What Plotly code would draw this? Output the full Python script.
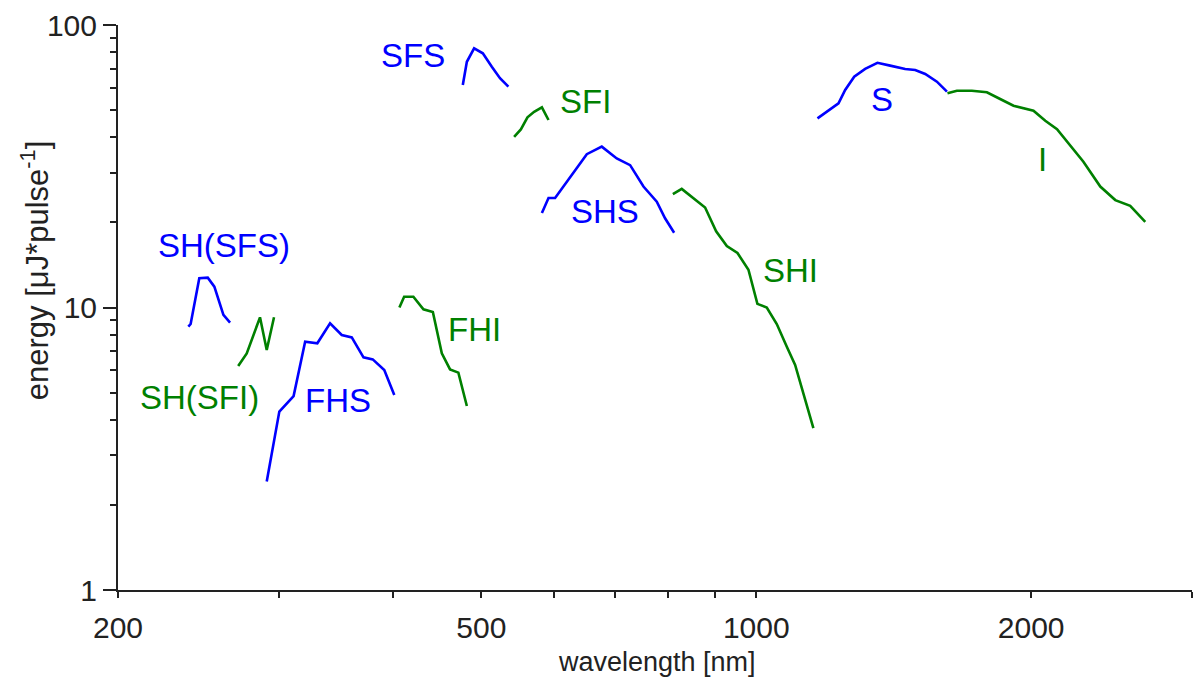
import numpy as np
import plotly.graph_objects as go

BLUE = "#0000FF"
GREEN = "#008000"

# ---- data (wavelength nm, energy uJ/pulse) ----
sh_sfs_wl = [238.8, 240.2, 245.5, 250.8, 255.0, 260.9, 265.3]
sh_sfs_e = [8.55, 8.74, 12.7, 12.75, 11.85, 9.41, 8.84]

sh_sfi_wl = [270.8, 276.7, 286.1, 291.0, 296.4]
sh_sfi_e = [6.21, 6.88, 9.23, 7.07, 9.23]

fhs_wl = [291.0, 300.4, 311.4, 320.6, 330.6, 341.4, 351.6, 360.6, 371.4, 380.2, 391.4, 401.4]
fhs_e = [2.42, 4.28, 4.86, 7.57, 7.47, 8.79, 7.99, 7.84, 6.66, 6.55, 6.01, 4.90]

fhi_wl = [406.6, 411.5, 421.2, 432.0, 442.4, 446.9, 452.5, 462.0, 471.8, 482.0]
fhi_e = [10.0, 10.92, 10.92, 9.85, 9.64, 8.21, 6.88, 6.04, 5.88, 4.48]

sfs_wl = [477.1, 482.0, 490.9, 501.8, 513.3, 524.0, 535.2]
sfs_e = [61.3, 74.1, 82.7, 79.4, 71.2, 64.8, 60.5]

sfi_wl = [543.0, 552.3, 561.6, 571.1, 582.4, 592.2]
sfi_e = [40.2, 42.7, 47.1, 49.3, 51.1, 46.1]

shs_wl = [582.4, 592.2, 602.1, 625.2, 652.2, 677.3, 703.4, 727.5, 752.4, 778.1, 794.5, 812.9]
shs_e = [21.6, 24.4, 24.4, 29.0, 34.9, 37.1, 33.7, 31.9, 26.8, 23.7, 20.7, 18.4]

shi_wl = [810.3, 828.6, 878.9, 903.7, 928.4, 953.6, 980.4, 1002.8, 1026.8, 1053.0, 1080.0, 1102.9, 1154.8]
shi_e = [25.2, 26.3, 22.6, 18.6, 16.5, 15.6, 13.6, 10.3, 10.0, 8.74, 7.26, 6.26, 3.74]

s_wl = [1166.8, 1199.6, 1230.3, 1251.2, 1280.0, 1315.8, 1357.2, 1401.4, 1455.6, 1492.8, 1531.0, 1576.8, 1617.2]
s_e = [46.7, 49.7, 52.8, 58.9, 65.6, 69.9, 73.5, 71.8, 69.9, 69.3, 67.1, 63.0, 58.1]

i_wl = [1619.4, 1658.2, 1722.0, 1766.0, 1788.6, 1849.4, 1912.8, 2011.6, 2072.4, 2134.6, 2206.4, 2281.4, 2380.6, 2472.4, 2567.2, 2666.4]
i_e = [57.3, 58.5, 58.5, 57.8, 57.8, 54.7, 51.8, 49.7, 45.8, 42.8, 37.6, 32.8, 26.8, 24.0, 22.9, 20.1]

series = [
    (sh_sfs_wl, sh_sfs_e, BLUE), (sh_sfi_wl, sh_sfi_e, GREEN),
    (fhs_wl, fhs_e, BLUE), (fhi_wl, fhi_e, GREEN),
    (sfs_wl, sfs_e, BLUE), (sfi_wl, sfi_e, GREEN),
    (shs_wl, shs_e, BLUE), (shi_wl, shi_e, GREEN),
    (s_wl, s_e, BLUE), (i_wl, i_e, GREEN),
]

# labels: text, wavelength, energy, colour
label_text = ["SFS", "SFI", "S", "SHS", "I", "SHI", "SH(SFS)", "FHI", "SH(SFI)", "FHS"]
label_wl = [420.6, 649.4, 1373.6, 683.0, 2056.0, 1089.0, 261.4, 490.9, 245.9, 348.6]
label_e = [78.3, 53.8, 54.3, 21.8, 33.3, 13.5, 16.6, 8.33, 4.82, 4.67]
label_col = [BLUE, GREEN, BLUE, BLUE, GREEN, GREEN, BLUE, GREEN, GREEN, BLUE]

x_major = [200, 500, 1000, 2000]
x_minor = [300, 400, 600, 700, 800, 900, 3000]
y_major = [1, 10, 100]
y_minor = [2, 3, 4, 5, 6, 7, 8, 9, 20, 30, 40, 50, 60, 70, 80, 90]

FONT = "Liberation Sans, Arial, sans-serif"
AX = "#222222"

fig = go.Figure()
for wl, e, c in series:
    fig.add_trace(go.Scatter(x=wl, y=e, mode="lines", line=dict(color=c, width=2.6),
                             showlegend=False, hoverinfo="skip"))

for t, w, e, c in zip(label_text, label_wl, label_e, label_col):
    fig.add_annotation(x=np.log10(w), y=np.log10(e), xref="x", yref="y", text=t,
                       showarrow=False, font=dict(family=FONT, size=33, color=c),
                       xanchor="center", yanchor="middle")

fig.add_annotation(x=0.5019, y=-0.1274, xref="paper", yref="paper", text="wavelength [nm]",
                   showarrow=False, font=dict(family=FONT, size=27, color=AX),
                   xanchor="center", yanchor="middle")
fig.add_annotation(x=-0.0773, y=0.566, xref="paper", yref="paper",
                   text="energy [μJ*pulse<sup>-1</sup>]", textangle=-90,
                   showarrow=False, font=dict(family=FONT, size=31, color=AX),
                   xanchor="center", yanchor="middle")

# long tick at 1000
fig.add_shape(type="line", xref="x", x0=np.log10(1000), x1=np.log10(1000),
              yref="paper", ysizemode="pixel", yanchor=0, y0=0, y1=-13,
              line=dict(color=AX, width=1.5))

fig.update_xaxes(type="log", range=[np.log10(200), np.log10(3000)],
                 tickvals=x_major, ticktext=[str(v) for v in x_major],
                 ticks="outside", ticklen=6, tickwidth=1.5, tickcolor=AX,
                 minor=dict(tickvals=x_minor, ticks="outside", ticklen=6, tickwidth=1.5, tickcolor=AX),
                 showline=True, linecolor=AX, linewidth=2, showgrid=False, zeroline=False,
                 tickfont=dict(family=FONT, size=30, color=AX), ticklabelstandoff=4)
fig.update_yaxes(type="log", range=[0, 2],
                 tickvals=y_major, ticktext=[str(v) for v in y_major],
                 ticks="outside", ticklen=13, tickwidth=1.5, tickcolor=AX,
                 minor=dict(tickvals=y_minor, ticks="outside", ticklen=6, tickwidth=1.5, tickcolor=AX),
                 showline=True, linecolor=AX, linewidth=2, showgrid=False, zeroline=False,
                 tickfont=dict(family=FONT, size=30, color=AX))

fig.update_layout(width=1194, height=682, margin=dict(l=118, r=2, t=25, b=92),
                  plot_bgcolor="white", paper_bgcolor="white")

fig.write_html("out.html")
